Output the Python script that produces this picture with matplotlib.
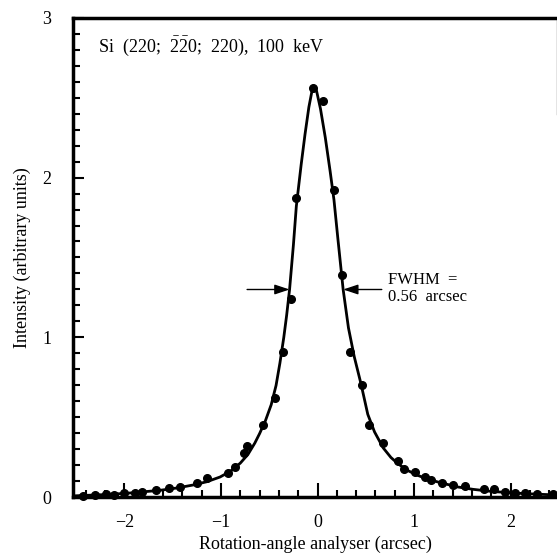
import matplotlib
matplotlib.use('Agg')
import matplotlib.pyplot as plt
import numpy as np
from matplotlib.ticker import MultipleLocator

plt.rcParams['font.family'] = ['Liberation Serif', 'DejaVu Serif']
plt.rcParams['mathtext.fontset'] = 'custom'
plt.rcParams['mathtext.rm'] = 'Liberation Serif'

# measured points (rotation angle in arcsec, intensity)
data_x = [-2.43, -2.31, -2.19, -2.11, -2.00, -1.89, -1.82, -1.67, -1.54, -1.43,
          -1.25, -1.15, -0.93, -0.86, -0.76, -0.73, -0.56, -0.44, -0.36, -0.28,
          -0.22, -0.046, 0.058, 0.17, 0.25, 0.34, 0.46, 0.53, 0.68, 0.83,
          0.90, 1.01, 1.11, 1.18, 1.29, 1.40, 1.53, 1.72, 1.83, 1.94,
          2.04, 2.15, 2.27, 2.44]
data_y = [0.012, 0.016, 0.022, 0.016, 0.026, 0.026, 0.036, 0.047, 0.061, 0.068,
          0.089, 0.124, 0.15, 0.19, 0.28, 0.32, 0.45, 0.62, 0.91, 1.24,
          1.87, 2.56, 2.48, 1.92, 1.39, 0.91, 0.70, 0.45, 0.34, 0.23,
          0.18, 0.16, 0.13, 0.11, 0.093, 0.078, 0.072, 0.051, 0.051, 0.036,
          0.030, 0.026, 0.022, 0.022]

# fitted curve
fit_x = [-2.53, -2.25, -1.98, -1.63, -1.45, -1.29, -1.15, -1.01, -0.90, -0.80,
         -0.72, -0.65, -0.60, -0.54, -0.48, -0.43, -0.39, -0.35, -0.32, -0.29,
         -0.25, -0.22, -0.17, -0.13, -0.09, -0.055, -0.035, -0.01, 0.03, 0.08,
         0.13, 0.17, 0.21, 0.265, 0.32, 0.38, 0.45, 0.52, 0.59, 0.68,
         0.76, 0.835, 0.93, 1.03, 1.15, 1.27, 1.45, 1.61, 1.80, 2.06,
         2.30, 2.48]
fit_y = [0.010, 0.017, 0.026, 0.045, 0.060, 0.078, 0.098, 0.128, 0.165, 0.215,
         0.27, 0.34, 0.40, 0.48, 0.58, 0.70, 0.84, 1.00, 1.14, 1.30,
         1.58, 1.82, 2.08, 2.27, 2.44, 2.55, 2.57, 2.54, 2.43, 2.25,
         2.04, 1.86, 1.62, 1.30, 1.06, 0.88, 0.71, 0.52, 0.41, 0.31,
         0.25, 0.21, 0.17, 0.14, 0.113, 0.093, 0.066, 0.051, 0.038, 0.027,
         0.020, 0.016]

fwhm_left = -0.29
fwhm_right = 0.265
half_max = 1.30

fig = plt.figure(figsize=(5.57, 5.54), dpi=100)
ax = fig.add_axes([0.1316, 0.102, 0.8684, 0.8664])

ax.plot(fit_x, fit_y, color='black', lw=2.0, solid_joinstyle='round', zorder=3)
ax.plot(data_x, data_y, 'o', color='black', ms=5.5, zorder=4, clip_on=False)

# FWHM arrows
ax.annotate('', xy=(fwhm_left, half_max), xytext=(fwhm_left - 0.44, half_max),
            arrowprops=dict(arrowstyle='-|>,head_length=0.9,head_width=0.3',
                            color='black', lw=1.0, shrinkA=0, shrinkB=0))
ax.annotate('', xy=(fwhm_right, half_max), xytext=(fwhm_right + 0.4, half_max),
            arrowprops=dict(arrowstyle='-|>,head_length=0.9,head_width=0.3',
                            color='black', lw=1.0, shrinkA=0, shrinkB=0))
ax.text(0.73, 1.36, 'FWHM  =', fontsize=12, va='center', ha='left')
ax.text(0.73, 1.25, '0.56  arcsec', fontsize=12, va='center', ha='left')

ax.text(-2.27, 2.82, r'Si  (220;  $\mathrm{\bar{2}\bar{2}0}$;  220),  100  keV',
        fontsize=13, va='center', ha='left')

ax.set_xlim(-2.53, 2.48)
ax.set_ylim(0, 3)
ax.xaxis.set_minor_locator(MultipleLocator(0.2))
ax.yaxis.set_major_locator(MultipleLocator(1))
ax.yaxis.set_minor_locator(MultipleLocator(0.1))
ax.set_xticks([-2, -1, 0, 1, 2])
ax.set_xticklabels(['\u22122', '\u22121', '0', '1', '2'])

ax.tick_params(which='both', direction='in', top=False, right=False,
               width=1.5, labelsize=13, colors='black')
ax.tick_params(axis='x', which='major', length=10, pad=12)
ax.tick_params(axis='x', which='minor', length=5)
ax.tick_params(axis='y', which='major', length=8, pad=16)
ax.tick_params(axis='y', which='minor', length=5)

for side in ['left', 'bottom', 'top']:
    ax.spines[side].set_linewidth(2.5)
ax.spines['right'].set_linewidth(1.0)
ax.spines['right'].set_color('#777777')
ax.spines['right'].set_bounds(2.4, 3)

ax.set_xlabel('Rotation-angle analyser (arcsec)', fontsize=13, labelpad=3)
ax.set_ylabel('Intensity (arbitrary units)', fontsize=13, labelpad=8)

fig.savefig('out.png', dpi=100)
